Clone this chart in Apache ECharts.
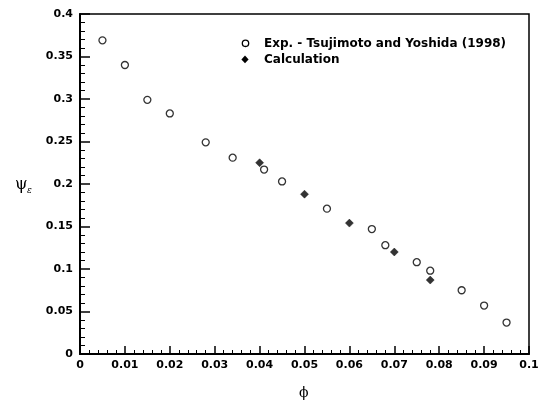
<!DOCTYPE html>
<html><head><meta charset="utf-8">
<script src="https://cdn.jsdelivr.net/npm/echarts@6/dist/echarts.min.js"></script>
<style>html,body{margin:0;padding:0;background:#fff}#wrap{position:relative;width:548px;height:402px}#c,#o{position:absolute;left:0;top:0;width:548px;height:402px}#o{pointer-events:none}</style>
</head><body><div id="wrap"><div id="c"></div><div id="o"></div></div>
<script>
const expData = [[0.005,0.369],[0.010,0.340],[0.015,0.299],[0.020,0.283],[0.028,0.249],[0.034,0.231],[0.041,0.217],[0.045,0.203],[0.055,0.171],[0.065,0.147],[0.068,0.128],[0.075,0.108],[0.078,0.098],[0.085,0.075],[0.090,0.057],[0.095,0.037]];
const calcData = [[0.040,0.225],[0.050,0.188],[0.060,0.154],[0.070,0.120],[0.078,0.087]];
const seriesNames = ['Exp. - Tsujimoto and Yoshida (1998)', 'Calculation'];
const xRange = [0, 0.1], yRange = [0, 0.4];
const fmt = v => String(parseFloat(v.toFixed(3)));
function ax(min, max, iv, len, margin) {
  return {
    type: 'value', min: min, max: max, interval: iv,
    axisLine: {show: true, lineStyle: {color: '#000', width: 2}},
    axisTick: {show: true, inside: true, length: len, lineStyle: {color: '#000', width: 1.5}},
    minorTick: {show: true, splitNumber: 5, length: len / 2, lineStyle: {color: '#000', width: 1}},
    splitLine: {show: false},
    axisLabel: {color: '#000', fontFamily: 'DejaVu Sans', fontWeight: 'bold', fontSize: 11, margin: margin, formatter: fmt}
  };
}
const chart = echarts.init(document.getElementById('c'));
chart.setOption({
  animation: false,
  grid: {left: 80, top: 14, right: 19, bottom: 48},
  xAxis: ax(xRange[0], xRange[1], 0.01, 8, 6),
  yAxis: ax(yRange[0], yRange[1], 0.05, 10, 7),
  series: [
    {name: seriesNames[0], type: 'scatter', data: expData, symbol: 'circle', symbolSize: 7,
     itemStyle: {color: '#fff', borderColor: '#000', borderWidth: 1.3}},
    {name: seriesNames[1], type: 'scatter', data: calcData, symbol: 'diamond', symbolSize: 8,
     itemStyle: {color: '#000', borderColor: '#000', borderWidth: 0.5}}
  ]
});
const p0 = chart.convertToPixel({gridIndex: 0}, [xRange[0], yRange[1]]);
const p1 = chart.convertToPixel({gridIndex: 0}, [xRange[1], yRange[0]]);
const ov = echarts.init(document.getElementById('o'));
const legFont = 'bold 12px DejaVu Sans';
ov.setOption({
  animation: false,
  graphic: [
    {type: 'rect', shape: {x: p0[0], y: p0[1], width: p1[0] - p0[0], height: p1[1] - p0[1]},
     style: {fill: 'none', stroke: '#000', lineWidth: 1.5}},
    {type: 'circle', shape: {cx: 245.5, cy: 43.3, r: 3.2}, style: {fill: '#fff', stroke: '#000', lineWidth: 1.3}},
    {type: 'polygon', shape: {points: [[245, 55.5], [248.6, 59.4], [245, 63.3], [241.4, 59.4]]}, style: {fill: '#000'}},
    {type: 'text', x: 264, y: 43.5, style: {text: seriesNames[0], font: legFont, fill: '#000', verticalAlign: 'middle', textVerticalAlign: 'middle'}},
    {type: 'text', x: 264, y: 59.5, style: {text: seriesNames[1], font: legFont, fill: '#000', verticalAlign: 'middle', textVerticalAlign: 'middle'}},
    {type: 'text', x: 15, y: 177, style: {text: 'ψ', font: '16px DejaVu Serif', fill: '#000'}},
    {type: 'text', x: 27, y: 186, style: {text: 'ε', font: 'italic 9px DejaVu Serif', fill: '#000'}},
    {type: 'text', x: 299, y: 386, style: {text: 'ϕ', font: '14px DejaVu Serif', fill: '#000'}}
  ]
});
</script></body></html>
